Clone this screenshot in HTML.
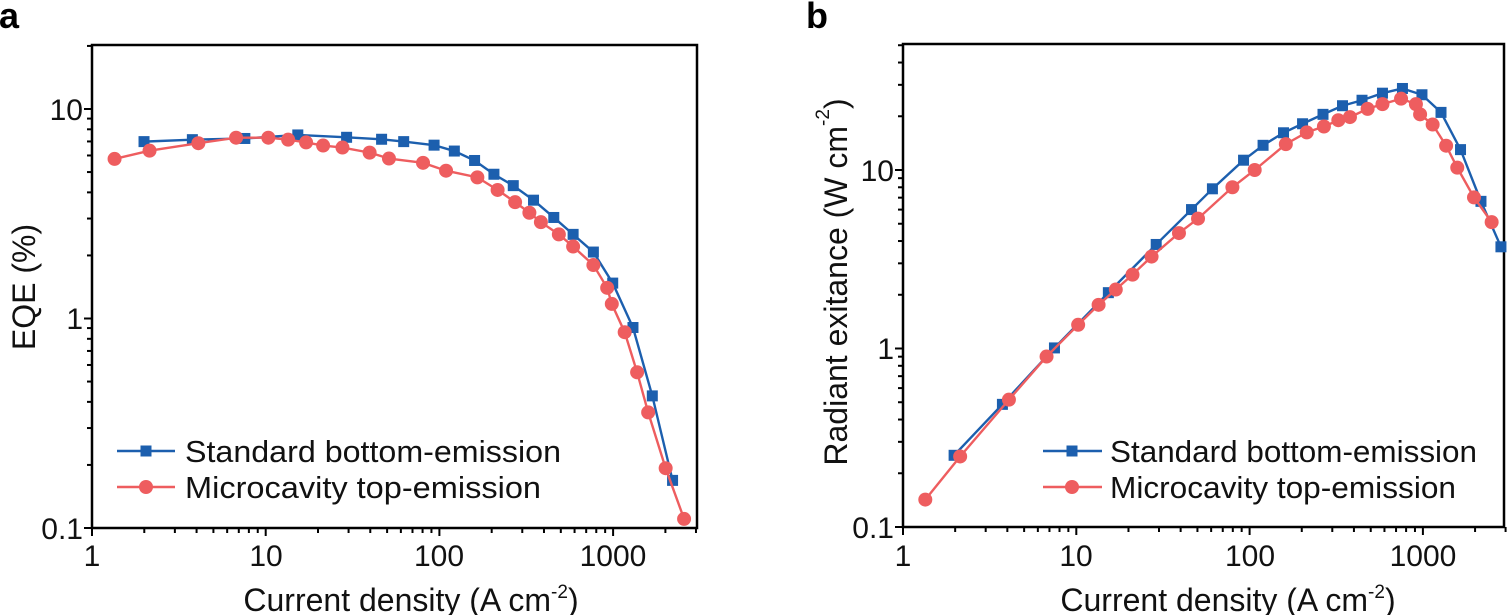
<!DOCTYPE html>
<html><head><meta charset="utf-8"><style>
html,body{margin:0;padding:0;background:#fff;}
svg{display:block;font-family:"Liberation Sans",Arial,sans-serif;}
</style></head><body>
<svg id="s" width="1507" height="615" viewBox="0 0 1507 615" xmlns="http://www.w3.org/2000/svg">
<rect width="1507" height="615" fill="#fff"/>
<text x="-1" y="28" font-size="36" font-weight="bold">a</text>
<text x="806" y="28" font-size="36" font-weight="bold">b</text>
<g font-size="30" fill="#111">
<text x="83" y="120" text-anchor="end">10</text>
<text x="83" y="329" text-anchor="end">1</text>
<text x="83" y="539" text-anchor="end">0.1</text>
<text x="92" y="566" text-anchor="middle">1</text>
<text x="266" y="566" text-anchor="middle">10</text>
<text x="439" y="566" text-anchor="middle">100</text>
<text x="613" y="566" text-anchor="middle">1000</text>
<text x="411" y="611" text-anchor="middle" font-size="32">Current density (A cm<tspan dy="-13" font-size="19">-2</tspan><tspan dy="13">)</tspan></text>
<text transform="translate(24,287) rotate(-90)" text-anchor="middle" dominant-baseline="central" font-size="32">EQE (%)</text>
<text x="185" y="462" font-size="31" textLength="376" lengthAdjust="spacingAndGlyphs">Standard bottom-emission</text>
<text x="185" y="498" font-size="31" textLength="356" lengthAdjust="spacingAndGlyphs">Microcavity top-emission</text>

<text x="894" y="181" text-anchor="end">10</text>
<text x="894" y="359" text-anchor="end">1</text>
<text x="894" y="538" text-anchor="end">0.1</text>
<text x="903" y="566" text-anchor="middle">1</text>
<text x="1076" y="566" text-anchor="middle">10</text>
<text x="1250" y="566" text-anchor="middle">100</text>
<text x="1423" y="566" text-anchor="middle">1000</text>
<text x="1228" y="611" text-anchor="middle" font-size="32">Current density (A cm<tspan dy="-13" font-size="19">-2</tspan><tspan dy="13">)</tspan></text>
<text transform="translate(836,282) rotate(-90)" text-anchor="middle" dominant-baseline="central" font-size="32">Radiant exitance  (W cm<tspan dy="-13" font-size="19">-2</tspan><tspan dy="13">)</tspan></text>
<text x="1110" y="462" font-size="31" textLength="367" lengthAdjust="spacingAndGlyphs">Standard bottom-emission</text>
<text x="1110" y="498" font-size="31" textLength="346" lengthAdjust="spacingAndGlyphs">Microcavity top-emission</text>
</g>
<g id="g"></g>
</svg>
<script>
var NS="http://www.w3.org/2000/svg",g=document.getElementById("g");
function el(t,a){var e=document.createElementNS(NS,t);for(var k in a)e.setAttribute(k,a[k]);g.appendChild(e);return e;}
var B="#1c5fae",R="#ee5d5f";
function axes(L,T,Rt,Bt,xd,y0v,ylo,yhi,ydec,xhi){
 el("rect",{x:L,y:T,width:Rt-L,height:Bt-T,fill:"none",stroke:"#000","stroke-width":2.5});
 for(var d=0;d<4;d++)for(var m=1;m<10;m++){var v=d+Math.log10(m);if(Math.pow(10,v)>xhi+1)continue;var x=L+v*xd;
  el("line",{x1:x,y1:Bt,x2:x,y2:Bt+(m==1?8:5),stroke:"#000","stroke-width":2});}
 for(var d=ylo;d<yhi;d++)for(var m=1;m<10;m++){var v=d+Math.log10(m);if(v>yhi+1e-9)continue;var y=Bt-(v-ylo)*ydec;if(y<T-1)continue;
  el("line",{x1:L,y1:y,x2:L-(m==1?8:5),y2:y,stroke:"#000","stroke-width":2});}
}
axes(92,45,697,528,173.7,0,-1,Math.log10(20),209.5,3000);
axes(903,44,1504,527,173.3,0,-1,Math.log10(50),178.5,3000);
function series(pts,col,sq,fx,fy){
 var P=pts.map(function(p){return [fx(p[0]),fy(p[1])];});
 el("polyline",{points:P.map(function(p){return p.join(",")}).join(" "),fill:"none",stroke:col,"stroke-width":2.4});
 P.forEach(function(p){ if(sq) el("rect",{x:p[0]-5.5,y:p[1]-5.5,width:11,height:11,fill:col});
  else el("circle",{cx:p[0],cy:p[1],r:7,fill:col});});
}
var fax=function(z){return 92+(z-203)*0.4604},fay=function(z){return 109+(z-277)*0.393};
var aB=[[316,360],[421,355],[535,352],[650,343],[756,349],[832,354],[880,360],[946,369],[990,384],[1034,408],[1076,443],[1118,472],[1162,509],[1206,553],[1248,596],[1292,641],[1334,720],[1378,833],[1420,1007],[1464,1222]];
var aR=[[252,404],[328,383],[434,364],[516,350],[586,350],[629,355],[668,362],[705,370],[747,375],[806,388],[848,403],[922,414],[972,434],[1040,451],[1084,483],[1122,514],[1153,541],[1178,565],[1217,596],[1248,627],[1292,674],[1322,732],[1332,773],[1360,845],[1387,947],[1411,1049],[1449,1191],[1489,1320]];
series(aB,B,true,fax,fay);series(aR,R,false,fax,fay);
var fbx=function(z){return 903+(z-268)*0.4646},fby=function(z){return 170+(z-432)*0.3919};
var bB=[[378,1160],[482,1030],[594,886],[710,745],[813,622],[889,533],[934,480],[1001,407],[1043,369],[1087,337],[1128,314],[1172,290],[1214,268],[1256,254],[1300,236],[1343,224],[1385,240],[1426,285],[1468,380],[1512,512],[1555,628]];
var bR=[[316,1273],[391,1163],[496,1018],[577,908],[645,827],[689,776],[726,737],[762,699],[803,653],[862,593],[903,556],[977,476],[1025,432],[1092,366],[1137,336],[1174,321],[1205,305],[1230,297],[1268,276],[1300,264],[1340,250],[1372,264],[1381,290],[1408,316],[1437,370],[1461,426],[1497,502],[1535,565]];
series(bB,B,true,fbx,fby);series(bR,R,false,fbx,fby);
el("line",{x1:117,y1:451,x2:175,y2:451,stroke:B,"stroke-width":2.4});el("rect",{x:140.5,y:445.5,width:11,height:11,fill:B});
el("line",{x1:117,y1:487,x2:175,y2:487,stroke:R,"stroke-width":2.4});el("circle",{cx:146,cy:487,r:7,fill:R});
el("line",{x1:1043,y1:451,x2:1102,y2:451,stroke:B,"stroke-width":2.4});el("rect",{x:1066.5,y:445.5,width:11,height:11,fill:B});
el("line",{x1:1043,y1:487,x2:1102,y2:487,stroke:R,"stroke-width":2.4});el("circle",{cx:1072,cy:487,r:7,fill:R});
</script>
</body></html>
